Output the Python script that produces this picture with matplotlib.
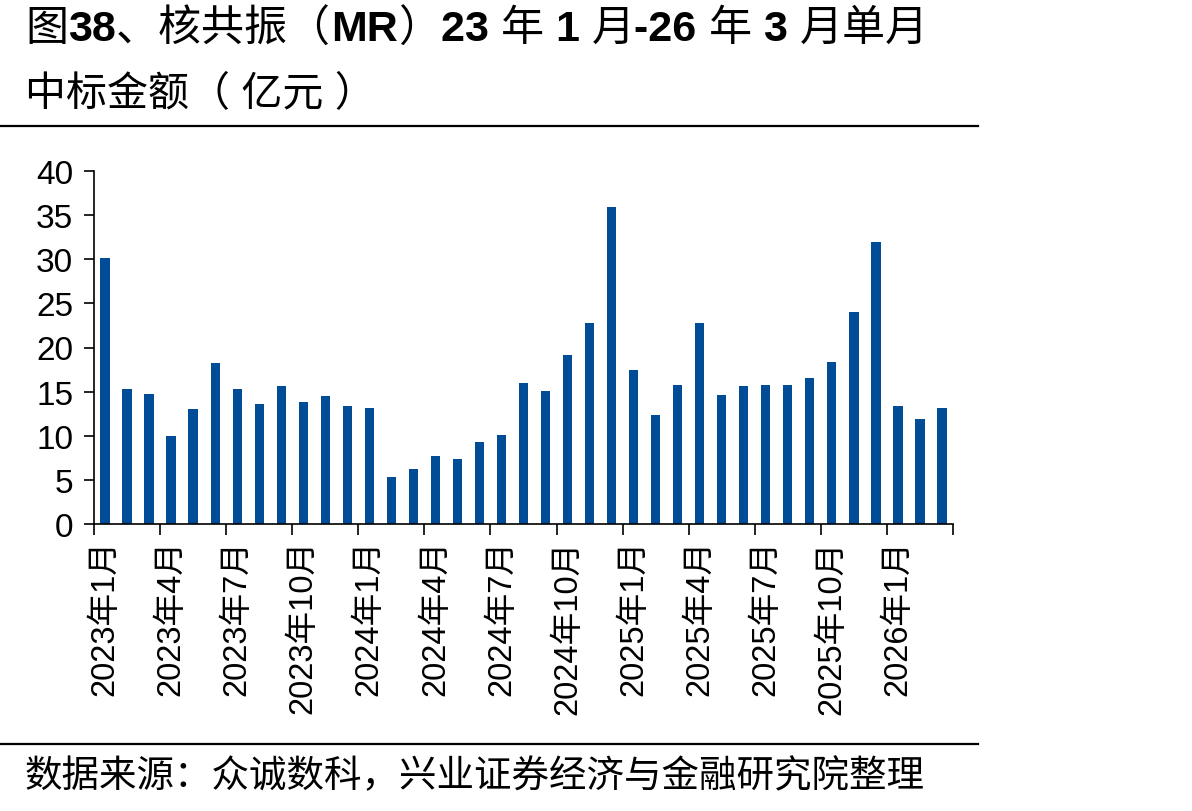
import numpy as np
import matplotlib.pyplot as plt
from matplotlib.lines import Line2D

plt.rcParams['font.family'] = ['Liberation Sans', 'Noto Sans CJK SC', 'DejaVu Sans']

# 月度中标金额（亿元），2023年1月 - 2026年3月
months = []
for y in range(2023, 2027):
    for m in range(1, 13):
        months.append(f"{y}年{m}月")
months = months[:39]

values = [30.1, 15.3, 14.7, 10.0, 13.0, 18.2, 15.3, 13.6, 15.6, 13.8, 14.5, 13.4,
          13.2, 5.3, 6.2, 7.7, 7.4, 9.3, 10.1, 16.0, 15.1, 19.1, 22.8, 35.9,
          17.4, 12.4, 15.8, 22.8, 14.6, 15.6, 15.8, 15.7, 16.6, 18.4, 24.0, 32.0,
          13.4, 11.9, 13.2]

# title pieces: (text, bold?)  latin in bold, CJK regular
title_parts = [("图", False), ("38", True), ("、核共振（", False), ("MR", True),
               ("）", False), ("23 ", True), ("年", False), (" 1 ", True),
               ("月", False), ("-26 ", True), ("年", False), (" 3 ", True),
               ("月单月", False)]
title_line2 = "中标金额（ 亿元 ）"
source = "数据来源：众诚数科，兴业证券经济与金融研究院整理"

fig = plt.figure(figsize=(11.92, 8.12), dpi=100)
ax = fig.add_axes([94 / 1192, 1 - 525 / 812, (953 - 94) / 1192, (525 - 172) / 812])

x = np.arange(len(values))
ax.bar(x, values, width=0.42, color='#004C97')

ax.set_xlim(-0.5, len(values) - 0.5)
ax.set_ylim(0, 40)
ax.set_yticks(range(0, 41, 5))
ax.tick_params(axis='y', labelsize=24, length=7, width=1.2, pad=8)

# boundary ticks every 3 months, labels centred on bars
ax.set_xticks(np.arange(-0.5, len(values), 3))
ax.set_xticklabels([])
ax.tick_params(axis='x', which='major', length=8, width=1.2)
ax.set_xticks(x[::3], minor=True)
ax.set_xticklabels(months[::3], minor=True, rotation=90, fontsize=23.5)
ax.tick_params(axis='x', which='minor', length=0, pad=11)

for s in ['top', 'right']:
    ax.spines[s].set_visible(False)
for s in ['left', 'bottom']:
    ax.spines[s].set_linewidth(1.2)

# first title line drawn piece by piece
renderer = fig.canvas.get_renderer()
xpos = 25
for txt, bold in title_parts:
    t = fig.text(xpos / 1192, 1 - 30 / 812, txt, fontsize=31,
                 fontweight='bold' if bold else 'normal', va='center')
    xpos += t.get_window_extent(renderer).width

fig.text(25 / 1192, 1 - 95 / 812, title_line2, fontsize=29.5, va='center')
fig.add_artist(Line2D([0, 978 / 1192], [1 - 127 / 812] * 2, color='black', lw=1.6))
fig.add_artist(Line2D([0, 978 / 1192], [1 - 745 / 812] * 2, color='black', lw=1.6))
fig.text(25 / 1192, 1 - 777 / 812, source, fontsize=27, va='center')

fig.savefig('out.png', dpi=100)
